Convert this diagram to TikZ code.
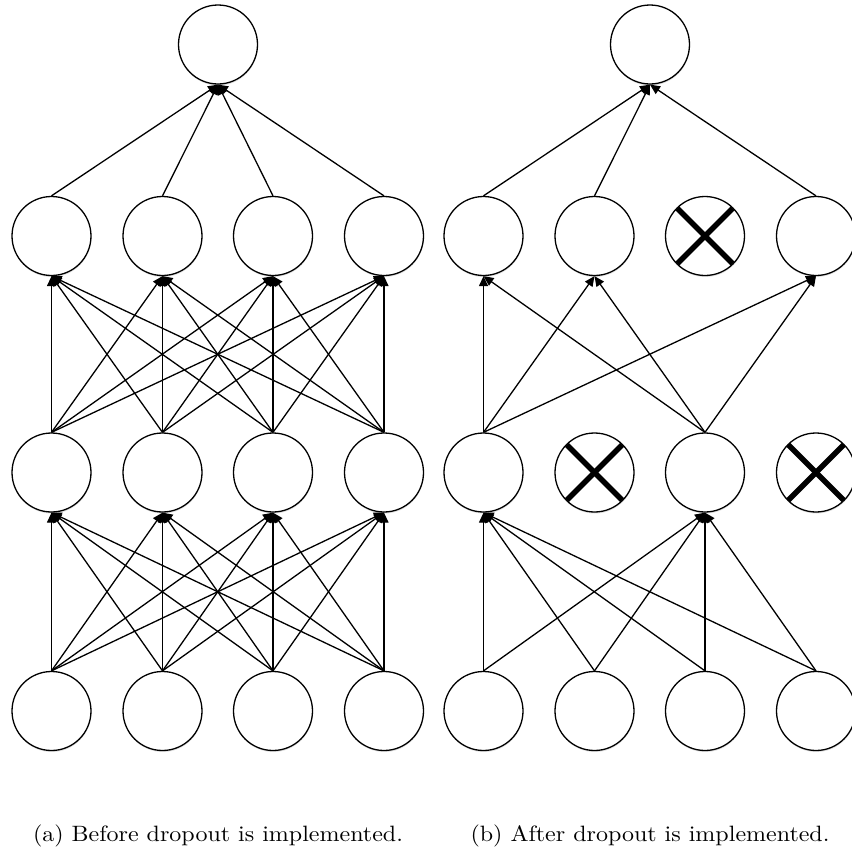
\documentclass[tikz,border=0pt]{standalone}
\usetikzlibrary{arrows.meta,shadows}
\begin{document}
\begin{tikzpicture}[x=1pt,y=-1pt,
  neuron/.style={circle, draw, line width=1.3pt, minimum size=79pt, inner sep=0pt, fill=white,
    drop shadow={shadow xshift=0.3pt, shadow yshift=-1.5pt, fill=black, opacity=0.12}},
  conn/.style={line width=1.3pt, -{Triangle[length=10pt,width=9pt]}},
  xmark/.style={line width=5.5pt, shorten >=1pt, shorten <=1pt},
  caption/.style={anchor=base, inner sep=0pt}]
\useasboundingbox (0,0) rectangle (852,849);
% ---------- left network ----------
\foreach \i/\x in {1/51.5,2/162.5,3/273,4/384}{
  \node[neuron] (lin\i) at (\x,711) {};
  \node[neuron] (lha\i) at (\x,472.5) {};
  \node[neuron] (lhb\i) at (\x,236) {};
}
\node[neuron] (lout) at (218,44.5) {};
\foreach \i in {1,...,4}{
  \foreach \j in {1,...,4}{
    \draw[conn] (lin\i.north) -- (lha\j.south);
    \draw[conn] (lha\i.north) -- (lhb\j.south);
  }
  \draw[conn] (lhb\i.north) -- (lout.south);
}
% ---------- right network ----------
\foreach \i/\x in {1/483.5,2/594.5,3/705,4/816}{
  \node[neuron] (rin\i) at (\x,711) {};
  \node[neuron] (rha\i) at (\x,472.5) {};
  \node[neuron] (rhb\i) at (\x,236) {};
}
\node[neuron] (rout) at (650,44.5) {};
\foreach \i in {1,...,4}{
  \foreach \j in {1,3}{
    \draw[conn] (rin\i.north) -- (rha\j.south);
  }
}
\foreach \i in {1,3}{
  \foreach \j in {1,2,4}{
    \draw[conn] (rha\i.north) -- (rhb\j.south);
  }
}
\foreach \i in {1,2,4}{
  \draw[conn] (rhb\i.north) -- (rout.south);
}
\foreach \n in {rha2,rha4,rhb3}{
  \draw[xmark] (\n.north west) -- (\n.south east);
  \draw[xmark] (\n.north east) -- (\n.south west);
}
% ---------- captions ----------
\node[caption] (capa) at (218,841) {\scalebox{2.4}[2.22]{(a) Before dropout is implemented.}};
\node[caption] (capb) at (650,841) {\scalebox{2.4}[2.22]{(b) After dropout is implemented.}};
\end{tikzpicture}
\end{document}
